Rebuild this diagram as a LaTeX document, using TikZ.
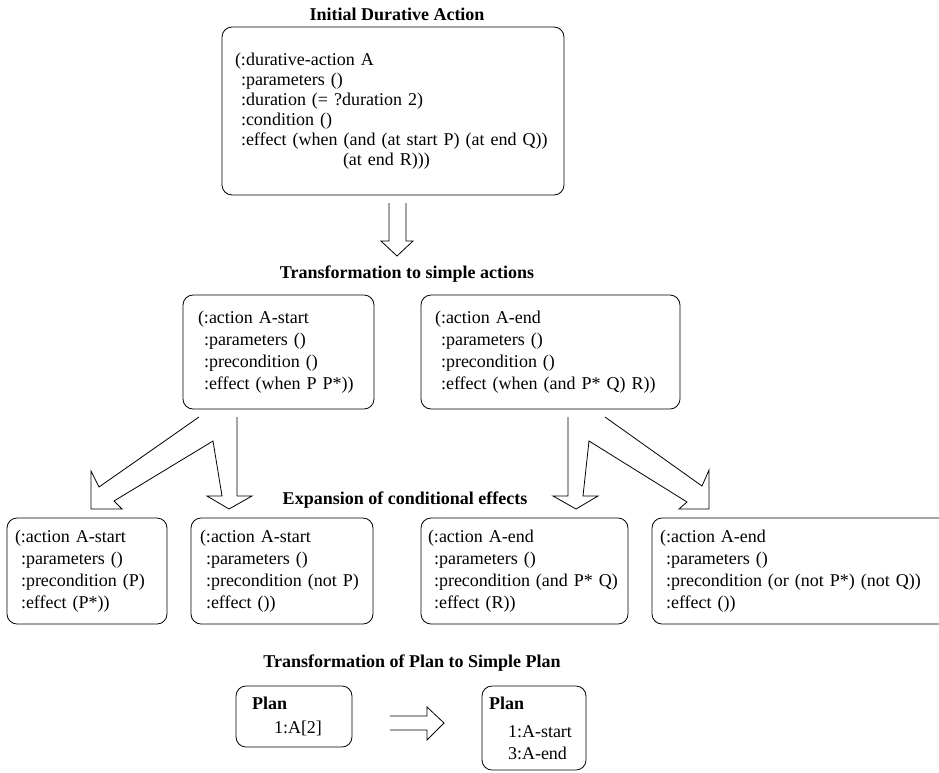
\documentclass[tikz,border=0pt]{standalone}
\usepackage{fontspec}
\setmainfont{Liberation Serif}
\newcommand{\ind}{\hspace*{6pt}}

\begin{document}
\begin{tikzpicture}[x=1pt, y=-1pt, line width=0.8pt,
  actbox/.style={draw, rounded corners=10pt, align=left, inner ysep=0pt,
    font=\fontsize{18}{22}\selectfont},
  heading/.style={font=\fontsize{18}{22}\selectfont\bfseries, inner sep=0pt},
  blockarrow/.style={draw, line join=miter}]

% Page: 939 x 772, y measured downwards from the top edge
\fill[white] (0,0) rectangle (939,772);
\useasboundingbox (0,0) rectangle (939,772);

% Headings
\node[heading] (hinit) at (397,14) {Initial Durative Action};
\node[heading] (hsimple) at (407,274) {Transformation to simple actions};
\node[heading] (hexpand) at (405,500) {Expansion of conditional effects};
\node[heading] (hplan) at (412,663) {Transformation of Plan to Simple Plan};

% Initial durative action
\node[actbox, text width=316pt, inner xsep=13pt, minimum height=168pt,
  font=\fontsize{18}{20}\selectfont] (durative) at (393,111)
  {(:durative-action A\\
   \ind:parameters ()\\
   \ind:duration (= ?duration 2)\\
   \ind:condition ()\\
   \ind:effect (when (and (at start P) (at end Q))\\
   \hspace*{108pt}(at end R)))};

% Double arrow down
\draw[blockarrow] (389,203) -- (389,241) -- (381,241) -- (397,256)
  -- (413,241) -- (406,241) -- (406,203);

% Simple actions
\node[actbox, text width=161pt, inner xsep=15pt, minimum height=114pt] (startact) at (278.5,352)
  {(:action A-start\\
   \ind:parameters ()\\
   \ind:precondition ()\\
   \ind:effect (when P P*))};
\node[actbox, text width=231pt, inner xsep=14pt, minimum height=114pt] (endact) at (550.5,352)
  {(:action A-end\\
   \ind:parameters ()\\
   \ind:precondition ()\\
   \ind:effect (when (and P* Q) R))};

% Split arrows below A-start (diagonal + vertical, one outline)
\draw[blockarrow] (199,417) -- (99,487) -- (91,471) -- (91,509) -- (122,509)
  -- (114,501) -- (213,441) -- (222,496) -- (207,496) -- (229,509)
  -- (252,496) -- (237,496) -- (237,417);

% Split arrows below A-end
\draw[blockarrow] (568,417) -- (568,496) -- (553,496) -- (576,509)
  -- (598,496) -- (583,496) -- (589,441) -- (687,502) -- (679,509)
  -- (709,509) -- (709,470) -- (702,486) -- (605,417);

% Expanded actions
\node[actbox, text width=144pt, inner xsep=8pt, minimum height=106pt] (startP) at (87,571)
  {(:action A-start\\
   \ind:parameters ()\\
   \ind:precondition (P)\\
   \ind:effect (P*))};
\node[actbox, text width=164pt, inner xsep=9pt, minimum height=106pt] (startnotP) at (282,571)
  {(:action A-start\\
   \ind:parameters ()\\
   \ind:precondition (not P)\\
   \ind:effect ())};
\node[actbox, text width=193pt, inner xsep=7pt, minimum height=106pt] (endPQ) at (524.5,571)
  {(:action A-end\\
   \ind:parameters ()\\
   \ind:precondition (and P* Q)\\
   \ind:effect (R))};
\node[actbox, text width=282pt, inner xsep=8pt, minimum height=106pt] (endnotPQ) at (801,571)
  {(:action A-end\\
   \ind:parameters ()\\
   \ind:precondition (or (not P*) (not Q))\\
   \ind:effect ())};

% Plans
\node[actbox, text width=84pt, inner xsep=16pt, minimum height=61pt] (plan1) at (294,716.5)
  {\textbf{Plan}\\[2pt]
   \hspace*{22pt}1:A[2]};
\node[actbox, text width=90pt, inner xsep=7pt, minimum height=84pt] (plan2) at (534,728)
  {\textbf{Plan}\\[6pt]
   \hspace*{19pt}1:A-start\\
   \hspace*{19pt}3:A-end};

% Double arrow right
\draw[blockarrow] (390,716) -- (427,716) -- (427,707) -- (444,723)
  -- (427,740) -- (427,730) -- (390,730);

\end{tikzpicture}
\end{document}
